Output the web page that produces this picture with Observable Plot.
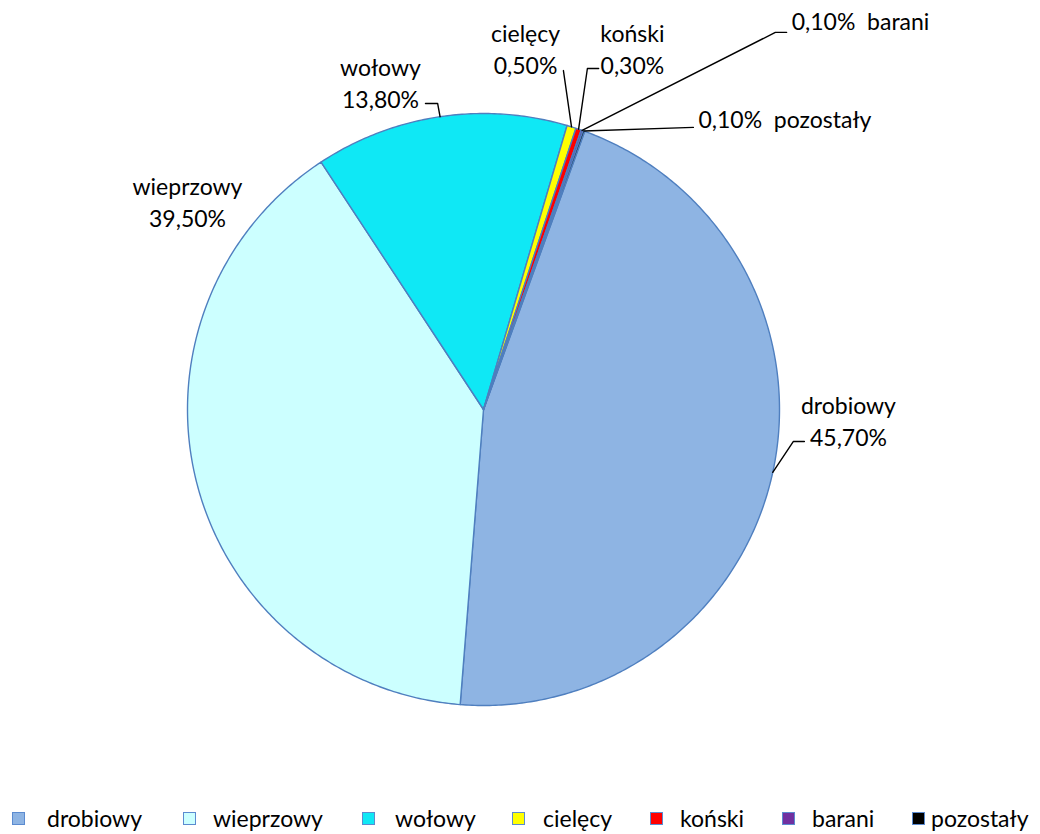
<!DOCTYPE html>
<html><head><meta charset="utf-8">
<script src="https://cdn.jsdelivr.net/npm/d3@7"></script>
<script src="https://cdn.jsdelivr.net/npm/@observablehq/plot@0.6"></script>
<style>
body{margin:0;background:#fff;font-family:Lato,"Open Sans",sans-serif;}
#wrap{position:relative;width:1040px;height:834px;overflow:hidden;}
#legend{position:absolute;left:0;top:790px;width:1040px;height:44px;}
.li{position:absolute;top:15px;height:26px;line-height:26px;display:flex;align-items:center;font-size:23px;color:#000;white-space:nowrap;}
.sw{display:block;flex:none;width:11px;height:11px;border:1.5px solid #5B8BD0;box-sizing:content-box;}
</style>
</head><body><div id="wrap"><div id="chart"></div><div id="legend"></div></div>
<script>
// ---- data ----
const categories = ["drobiowy","wieprzowy","wołowy","cielęcy","koński","barani","pozostały"];
const shares = [45.7, 39.5, 13.8, 0.5, 0.3, 0.1, 0.1];
const shareLabels = ["45,70%","39,50%","13,80%","0,50%","0,30%","0,10%","0,10%"];
const colors = ["#8EB4E3","#CCFFFF","#0FE8F5","#FFFF00","#FF0000","#7030A0","#000000"];

// ---- layout (radius units, relative to pie centre) ----
const W = 1040, H = 790, CX = 483, CY = 409, R = 296;
const labelLayout = {
  "drobiowy":  {x: 1.233, y: -0.034, anchor: "middle", two: true, leader: [[1.047,-0.108],[1.084,-0.108]]},
  "wieprzowy": {x: -1.0,  y: 0.706,  anchor: "middle", two: true, leader: []},
  "wołowy":    {x: -0.348,y: 1.108,  anchor: "middle", two: true, leader: [[-0.155,1.034],[-0.196,1.034]]},
  "cielęcy":   {x: 0.142, y: 1.223,  anchor: "middle", two: true, leader: [[0.270,1.145]]},
  "koński":    {x: 0.503, y: 1.223,  anchor: "middle", two: true, leader: [[0.351,1.152],[0.389,1.152]]},
  "barani":    {x: 1.041, y: 1.307,  anchor: "start",  two: false, leader: [[0.986,1.274],[1.024,1.274]]},
  "pozostały": {x: 0.726, y: 0.976,  anchor: "start",  two: false, leader: [[0.709,0.953]]}
};
const legendX = [12, 183, 362, 512, 650, 782, 912];
const legendGap = [36, 31, 34, 32, 31, 31, 20];

// ---- build ----
const rows = categories.map((c, i) => ({cat: c, value: shares[i], label: shareLabels[i]}));
const arcs = d3.pie().sort(null).value(d => d.value)
  .startAngle(20 * Math.PI / 180).endAngle(380 * Math.PI / 180)(rows);

const polys = [];
for (const a of arcs) {
  polys.push({cat: a.data.cat, x: 0, y: 0});
  const n = Math.max(2, Math.ceil((a.endAngle - a.startAngle) / 0.01));
  for (let k = 0; k <= n; k++) {
    const t = a.startAngle + (a.endAngle - a.startAngle) * k / n;
    polys.push({cat: a.data.cat, x: Math.sin(t), y: Math.cos(t)});
  }
  polys.push({cat: a.data.cat, x: 0, y: 0});
}

const leaders = [];
const texts = [];
for (const a of arcs) {
  const c = a.data.cat, L = labelLayout[c];
  const m = (a.startAngle + a.endAngle) / 2;
  if (L.leader.length) {
    leaders.push({cat: c, x: Math.sin(m), y: Math.cos(m)});
    for (const p of L.leader) leaders.push({cat: c, x: p[0], y: p[1]});
  }
  texts.push({cat: c, x: L.x, y: L.y, anchor: L.anchor,
    text: L.two ? c + "\n" + a.data.label : a.data.label + "  " + c});
}

const plot = Plot.plot({
  width: W, height: H, margin: 0,
  x: {domain: [-CX / R, (W - CX) / R], axis: null},
  y: {domain: [-(H - CY) / R, CY / R], axis: null},
  color: {domain: categories, range: colors},
  style: {fontFamily: "Lato, 'Open Sans', sans-serif", background: "#fff"},
  marks: [
    Plot.line(polys, {x: "x", y: "y", z: "cat", fill: "cat", stroke: "#4F7FBF", strokeWidth: 1.4, strokeLinejoin: "round"}),
    Plot.line(leaders, {x: "x", y: "y", z: "cat", stroke: "#000", strokeWidth: 1.4}),
    Plot.text(texts.filter(d => d.anchor === "middle"), {x: "x", y: "y", text: "text", textAnchor: "middle", fontSize: 23, lineHeight: 1.4, fill: "#000"}),
    Plot.text(texts.filter(d => d.anchor === "start"), {x: "x", y: "y", text: "text", textAnchor: "start", fontSize: 23, fill: "#000"})
  ]
});
document.getElementById("chart").appendChild(plot);

const leg = document.getElementById("legend");
categories.forEach((c, i) => {
  const item = document.createElement("div");
  item.className = "li";
  item.style.left = legendX[i] + "px";
  const sw = document.createElement("span");
  sw.className = "sw";
  sw.style.background = colors[i];
  const tx = document.createElement("span");
  tx.textContent = c;
  tx.style.marginLeft = (legendGap[i] - 14) + "px";
  item.appendChild(sw); item.appendChild(tx);
  leg.appendChild(item);
});
</script></body></html>
